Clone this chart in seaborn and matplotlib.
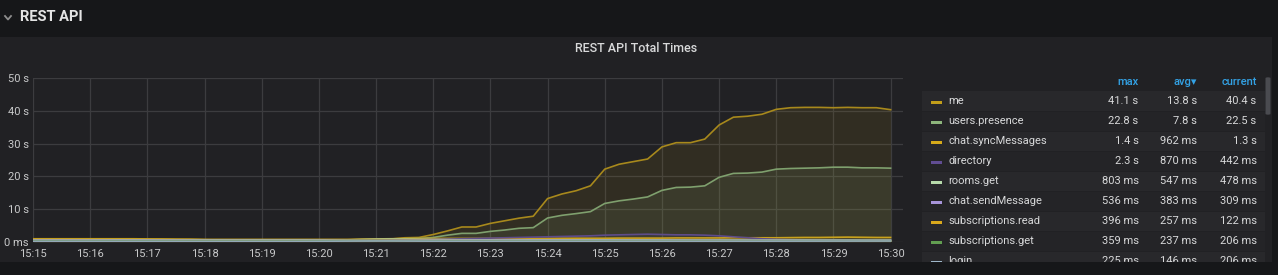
import matplotlib
matplotlib.use("Agg")
import matplotlib.pyplot as plt
import matplotlib.dates as mdates
from matplotlib.patches import Rectangle, FancyBboxPatch
from matplotlib.lines import Line2D
import seaborn as sns
import pandas as pd
import numpy as np

# ---------------- data (seconds, one point every 15 s, 15:15 -> 15:30) ----------------
times = pd.date_range("2019-01-01 15:15:00", "2019-01-01 15:30:00", freq="15s")

series_names = ["me", "users.presence", "chat.syncMessages", "directory", "rooms.get",
                "chat.sendMessage", "subscriptions.read", "subscriptions.get", "login"]

me = [0.9, 0.9, 0.9, 0.9, 0.9, 0.9, 0.9, 0.9, 0.85, 0.8, 0.75, 0.7,
      0.6, 0.55, 0.5, 0.5, 0.5, 0.5, 0.5, 0.5, 0.5, 0.5, 0.5, 0.55, 0.6,
      0.8, 1.2, 1.3, 2.2, 3.3, 4.5, 4.5, 5.6, 6.4, 7.2, 7.8, 13.2,
      14.6, 15.6, 17.1, 22.2, 23.7, 24.5, 25.3, 29.0, 30.3, 30.3, 31.4, 35.7,
      38.1, 38.4, 39.0, 40.5, 41.0, 41.1, 41.1, 41.0, 41.1, 41.0, 41.0, 40.4]

users_presence = [0.6, 0.6, 0.6, 0.6, 0.6, 0.6, 0.6, 0.6, 0.55, 0.5, 0.5, 0.45,
                  0.4, 0.4, 0.35, 0.35, 0.35, 0.35, 0.35, 0.35, 0.35, 0.35, 0.35, 0.4, 0.45,
                  0.6, 0.9, 1.0, 1.3, 2.0, 2.55, 2.55, 3.16, 3.57, 4.1, 4.3, 7.25,
                  8.07, 8.6, 9.2, 11.7, 12.5, 13.05, 13.7, 15.7, 16.6, 16.7, 17.1, 19.7,
                  20.9, 21.0, 21.3, 22.2, 22.4, 22.5, 22.6, 22.8, 22.8, 22.6, 22.6, 22.5]

chat_sync = [0.85, 0.85, 0.85, 0.85, 0.85, 0.85, 0.85, 0.85, 0.8, 0.8, 0.75, 0.75,
             0.7, 0.7, 0.7, 0.7, 0.7, 0.7, 0.7, 0.7, 0.7, 0.7, 0.7, 0.8, 0.85,
             0.9, 0.95, 1.0, 1.0, 1.0, 1.0, 1.0, 1.0, 1.0, 1.0, 1.0, 1.0,
             1.05, 1.05, 1.05, 1.05, 1.1, 1.1, 1.1, 1.1, 1.15, 1.15, 1.15, 1.15,
             1.2, 1.2, 1.2, 1.2, 1.25, 1.3, 1.3, 1.35, 1.4, 1.35, 1.3, 1.3]

directory = [0.42, 0.4, 0.45, 0.4, 0.38, 0.4, 0.42, 0.4, 0.4, 0.38, 0.36, 0.35,
             0.35, 0.35, 0.34, 0.35, 0.35, 0.34, 0.35, 0.35, 0.36, 0.35, 0.35, 0.38, 0.4,
             0.45, 0.5, 0.6, 0.7, 0.8, 0.9, 1.0, 1.1, 1.2, 1.3, 1.4, 1.5,
             1.6, 1.7, 1.8, 2.0, 2.1, 2.2, 2.3, 2.2, 2.1, 2.1, 2.0, 1.8,
             1.5, 1.2, 0.9, 0.7, 0.6, 0.55, 0.5, 0.5, 0.48, 0.46, 0.45, 0.44]

rooms_get = [0.55, 0.55, 0.56, 0.55, 0.54, 0.55, 0.55, 0.54, 0.52, 0.5, 0.5, 0.5,
             0.5, 0.5, 0.49, 0.5, 0.5, 0.49, 0.5, 0.5, 0.5, 0.5, 0.55, 0.65, 0.75,
             0.8, 0.78, 0.72, 0.66, 0.62, 0.6, 0.58, 0.57, 0.56, 0.56, 0.55, 0.55,
             0.55, 0.55, 0.55, 0.54, 0.54, 0.54, 0.53, 0.53, 0.53, 0.52, 0.52, 0.52,
             0.51, 0.51, 0.5, 0.5, 0.5, 0.5, 0.49, 0.49, 0.49, 0.48, 0.48, 0.48]

chat_send = [0.42, 0.42, 0.42, 0.42, 0.41, 0.41, 0.4, 0.4, 0.4, 0.38, 0.38, 0.37,
             0.36, 0.35, 0.35, 0.35, 0.35, 0.35, 0.35, 0.35, 0.36, 0.38, 0.42, 0.48, 0.53,
             0.54, 0.5, 0.46, 0.44, 0.42, 0.41, 0.4, 0.4, 0.4, 0.39, 0.39, 0.39,
             0.38, 0.38, 0.38, 0.37, 0.37, 0.37, 0.36, 0.36, 0.36, 0.35, 0.35, 0.35,
             0.34, 0.34, 0.33, 0.33, 0.33, 0.32, 0.32, 0.32, 0.31, 0.31, 0.31, 0.31]

subs_read = [0.3, 0.3, 0.3, 0.3, 0.29, 0.29, 0.28, 0.28, 0.27, 0.27, 0.26, 0.26,
             0.25, 0.25, 0.25, 0.25, 0.25, 0.25, 0.25, 0.26, 0.28, 0.32, 0.36, 0.39, 0.4,
             0.38, 0.35, 0.33, 0.31, 0.3, 0.29, 0.28, 0.28, 0.27, 0.27, 0.26, 0.26,
             0.25, 0.25, 0.25, 0.24, 0.24, 0.24, 0.23, 0.23, 0.22, 0.22, 0.21, 0.21,
             0.2, 0.2, 0.19, 0.18, 0.17, 0.16, 0.15, 0.14, 0.14, 0.13, 0.13, 0.12]

subs_get = [0.26, 0.26, 0.26, 0.25, 0.25, 0.25, 0.25, 0.24, 0.24, 0.24, 0.23, 0.23,
            0.22, 0.22, 0.22, 0.22, 0.22, 0.22, 0.22, 0.23, 0.25, 0.28, 0.32, 0.35, 0.36,
            0.34, 0.31, 0.29, 0.27, 0.26, 0.25, 0.25, 0.24, 0.24, 0.24, 0.23, 0.23,
            0.23, 0.23, 0.23, 0.22, 0.22, 0.22, 0.22, 0.22, 0.22, 0.22, 0.21, 0.21,
            0.21, 0.21, 0.21, 0.21, 0.21, 0.21, 0.21, 0.21, 0.21, 0.21, 0.21, 0.21]

login = [0.14, 0.14, 0.14, 0.14, 0.14, 0.13, 0.13, 0.13, 0.13, 0.13, 0.13, 0.12,
         0.12, 0.12, 0.12, 0.12, 0.12, 0.12, 0.12, 0.13, 0.14, 0.16, 0.19, 0.21, 0.22,
         0.22, 0.2, 0.18, 0.16, 0.15, 0.15, 0.14, 0.14, 0.14, 0.14, 0.14, 0.14,
         0.14, 0.14, 0.14, 0.14, 0.14, 0.15, 0.15, 0.15, 0.15, 0.15, 0.15, 0.15,
         0.16, 0.16, 0.16, 0.17, 0.17, 0.18, 0.18, 0.19, 0.19, 0.2, 0.2, 0.21]

series_values = [me, users_presence, chat_sync, directory, rooms_get,
                 chat_send, subs_read, subs_get, login]

legend_max = ["41.1 s", "22.8 s", "1.4 s", "2.3 s", "803 ms", "536 ms", "396 ms", "359 ms", "225 ms"]
legend_avg = ["13.8 s", "7.8 s", "962 ms", "870 ms", "547 ms", "383 ms", "257 ms", "237 ms", "146 ms"]
legend_current = ["40.4 s", "22.5 s", "1.3 s", "442 ms", "478 ms", "309 ms", "122 ms", "206 ms", "206 ms"]

y_ticks = [0, 10, 20, 30, 40, 50]
y_tick_labels = ["0 ms", "10 s", "20 s", "30 s", "40 s", "50 s"]

colors = ["#C29E1A", "#8DB57C", "#D6AA1A", "#614D93", "#B7DBAB",
          "#A794D9", "#D9A81C", "#629E51", "#9FB7C9"]
line_colors = ["#A8891C", "#7FA06E", "#C9A21C", "#5E4C8A", "#A9C99E",
               "#9686C4", "#C99E1C", "#5B8F4B", "#93A8B8"]

# ---------------- styling ----------------
W, H = 1278, 275
BG = "#212124"
DARK = "#161719"
TXT = "#c8c9ca"

plt.rcParams["font.family"] = ["Roboto", "DejaVu Sans"]

df = pd.DataFrame({
    "time": np.tile(times, len(series_names)),
    "value": np.concatenate([np.array(v, dtype=float) for v in series_values]),
    "series": np.repeat(series_names, len(times)),
})

fig = plt.figure(figsize=(W / 100, H / 100), dpi=100, facecolor=BG)

def fx(px):
    return px / W

def fy(py):
    return 1 - py / H

# header bar and bottom strip
fig.patches.append(Rectangle((0, fy(37)), 1, 37 / H, transform=fig.transFigure,
                             facecolor=DARK, edgecolor="none", zorder=10))
fig.patches.append(Rectangle((0, 0), 1, 13 / H, transform=fig.transFigure,
                             facecolor=DARK, edgecolor="none", zorder=10))
fig.patches.append(Rectangle((fx(1272), 0), 6 / W, 1, transform=fig.transFigure,
                             facecolor=DARK, edgecolor="none", zorder=10))

# chevron + header text
fig.add_artist(Line2D([fx(5), fx(8), fx(11)], [fy(16), fy(19.5), fy(16)],
                      color="#8e8e8e", lw=1.3, transform=fig.transFigure, zorder=11))
fig.text(fx(20), fy(17), "REST API", color="#e4e4e4", fontsize=10.5, fontweight="bold",
         va="center", ha="left", zorder=11)

# panel title
fig.text(fx(636), fy(49), "REST API Total Times", color="#d8d9da", fontsize=9,
         fontweight="medium", va="center", ha="center")

# ---------------- main plot ----------------
ax = fig.add_axes([fx(33), fy(241.7), (903 - 33) / W, (241.7 - 78.3) / H])
ax.set_facecolor(BG)

sns.lineplot(data=df, x="time", y="value", hue="series", hue_order=series_names,
             palette=line_colors, legend=False, linewidth=1.2, estimator=None, ax=ax, zorder=3)
for name, vals, c in zip(series_names, series_values, colors):
    ax.fill_between(times, 0, vals, color=c, alpha=0.1, linewidth=0, zorder=2)

ax.set_ylim(0, 50)
ax.set_xlim(times[0], times[-1] + pd.Timedelta(seconds=13))
ax.set_yticks(y_ticks)
ax.set_yticklabels(y_tick_labels)
ax.xaxis.set_major_locator(mdates.MinuteLocator())
ax.xaxis.set_major_formatter(mdates.DateFormatter("%H:%M"))
ax.grid(True, color="#3c3c3f", linewidth=0.9, zorder=0)
ax.set_axisbelow(True)
for s in ax.spines.values():
    s.set_visible(False)
ax.tick_params(axis="both", length=0, colors=TXT, labelsize=8)
ax.tick_params(axis="x", pad=5)
ax.tick_params(axis="y", pad=3)
ax.set_xlabel("")
ax.set_ylabel("")

# ---------------- legend table ----------------
col_max, col_avg, col_cur = 1138.5, 1197, 1256.5
hdr_y = 82
blue = "#33A2E5"
fig.text(fx(col_max), fy(hdr_y), "max", color=blue, fontsize=8, ha="right", va="center",
         fontweight="medium")
fig.text(fx(col_avg), fy(hdr_y), "avg\u25BE", color=blue, fontsize=8, ha="right", va="center",
         fontweight="medium")
fig.text(fx(col_cur), fy(hdr_y), "current", color=blue, fontsize=8, ha="right", va="center",
         fontweight="medium")

for i, name in enumerate(series_names):
    cy = 101 + 20 * i
    fig.patches.append(Rectangle((fx(922), fy(cy + 10)), (1265 - 922) / W, 19.5 / H,
                                 transform=fig.transFigure,
                                 facecolor="#28282b" if i % 2 == 0 else "#242427",
                                 edgecolor="none", zorder=1))
    fig.patches.append(Rectangle((fx(931), fy(cy + 2.5)), 11 / W, 3 / H,
                                 transform=fig.transFigure, facecolor=colors[i],
                                 edgecolor="none", zorder=2))
    fig.text(fx(948), fy(cy), name, color="#d8d9da", fontsize=8, ha="left", va="center")
    fig.text(fx(col_max), fy(cy), legend_max[i], color="#d8d9da", fontsize=8,
             ha="right", va="center")
    fig.text(fx(col_avg), fy(cy), legend_avg[i], color="#d8d9da", fontsize=8,
             ha="right", va="center")
    fig.text(fx(col_cur), fy(cy), legend_current[i], color="#d8d9da", fontsize=8,
             ha="right", va="center")

# scrollbar
fig.patches.append(FancyBboxPatch((fx(1265.5), fy(115)), 5 / W, 38 / H,
                                  boxstyle="round,pad=0,rounding_size=0.004",
                                  transform=fig.transFigure, facecolor="#4a4b50",
                                  edgecolor="none", zorder=3))

fig.savefig("out.png", dpi=100, facecolor=BG)
